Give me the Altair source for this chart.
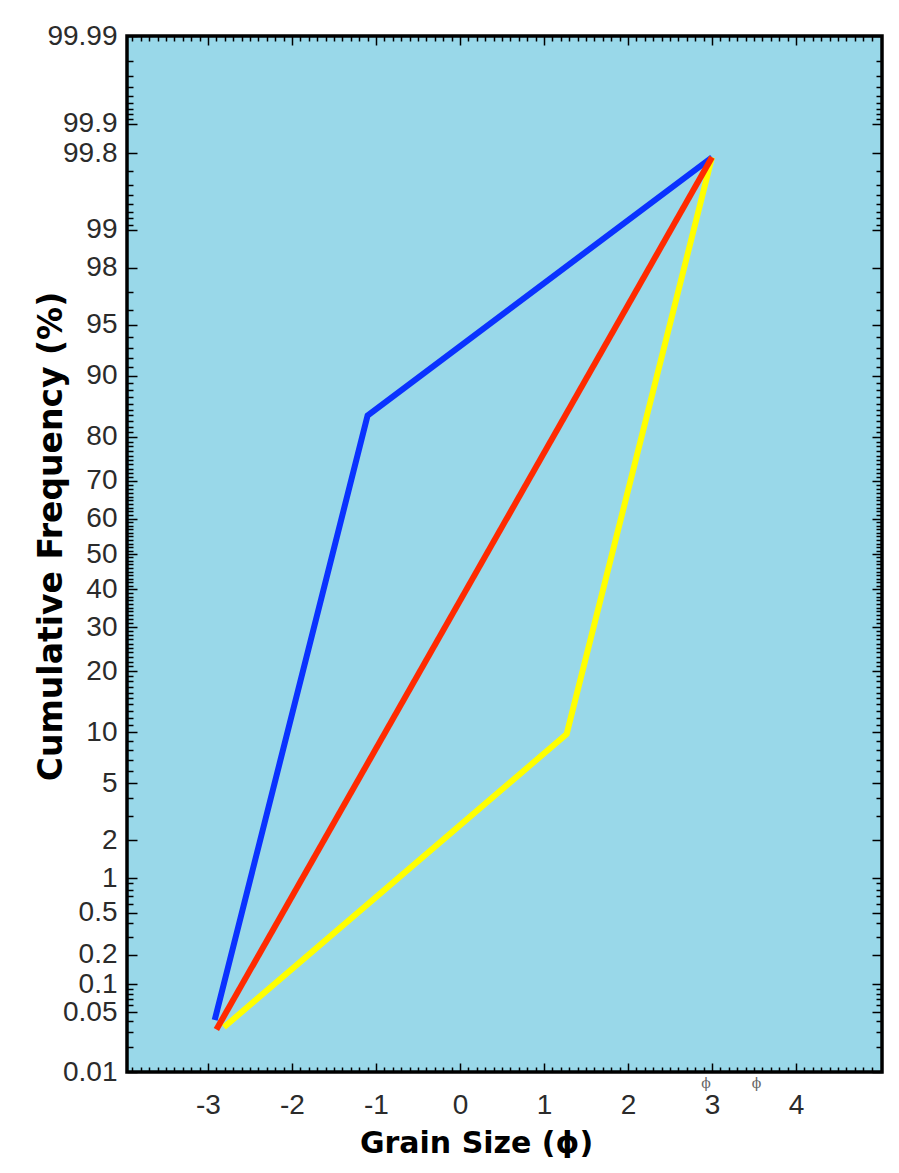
import altair as alt
import pandas as pd
from statistics import NormalDist

# ---- data ----
series_names = ["blue", "yellow", "red"]
series_colors = ["#0a32ff", "#ffff00", "#ff2a00"]

blue_x = [-2.92, -1.1, 3.0]
blue_p = [0.041, 84.0, 99.78]
yellow_x = [-2.81, 1.27, 3.0]
yellow_p = [0.034, 9.8, 99.78]
red_x = [-2.9, 3.0]
red_p = [0.032, 99.78]

x_tick_labels = [-3, -2, -1, 0, 1, 2, 3, 4]
y_tick_labels = [0.01, 0.05, 0.1, 0.2, 0.5, 1, 2, 5, 10, 20, 30, 40, 50, 60, 70,
                 80, 90, 95, 98, 99, 99.8, 99.9, 99.99]
y_minor_pcts = ([round(0.01 * k, 2) for k in range(2, 10)]
                + [round(0.1 * k, 1) for k in range(3, 10) if k != 5]
                + [k for k in range(3, 99) if k not in y_tick_labels]
                + [round(99 + 0.1 * k, 1) for k in range(1, 10) if k not in (8, 9)]
                + [round(99.9 + 0.01 * k, 2) for k in range(1, 9)])
x_minor = [round(-3.9 + 0.1 * k, 1) for k in range(0, 90)]

stray_x = [2.93, 3.53]
stray_text = ["ϕ", "ϕ"]

# ---- tables ----
rows = []
for name, xs, ps in [("blue", blue_x, blue_p), ("yellow", yellow_x, yellow_p), ("red", red_x, red_p)]:
    for i, (xv, pv) in enumerate(zip(xs, ps)):
        rows.append({"series": name, "x": xv, "p": pv, "i": i})
df = pd.DataFrame(rows)
stray_df = pd.DataFrame({"x": stray_x, "t": stray_text})

nd = NormalDist()
def zq(p):
    return nd.inv_cdf(p / 100.0)

z_major = [zq(p) for p in y_tick_labels]
z_minor = [zq(p) for p in y_minor_pcts if p not in y_tick_labels]
x_major = [float(v) for v in x_tick_labels]
x_min = [v for v in x_minor if abs(v - round(v)) > 1e-6]

W, H = 755, 1036
XDOM = [-3.964, 5.024]
YDOM = [zq(0.01), zq(99.99)]

base = alt.Chart(df).transform_calculate(z="quantileNormal(datum.p / 100)")

xs = alt.Scale(domain=XDOM, nice=False, zero=False)
ys = alt.Scale(domain=YDOM, nice=False, zero=False)

LABEL_FONT = "Liberation Sans"
TITLE_FONT = "DejaVu Sans"

main_x_axis = alt.Axis(values=x_major, ticks=False, domain=False, grid=False,
                       labelExpr="'' + datum.value", labelFont=LABEL_FONT, labelFontSize=28,
                       labelColor="#2b2b2b", labelPadding=19, labelFlush=False, labelOverlap=False,
                       title="Grain Size (ϕ)", titleFont=TITLE_FONT, titleFontSize=30,
                       titleFontWeight="bold", titleColor="black", titleX=349, titleY=80,
                       titleBaseline="alphabetic", titleAlign="center")
main_y_axis = alt.Axis(values=z_major, ticks=False, domain=False, grid=False,
                       labelExpr="format(round(cumulativeNormal(datum.value) * 10000) / 100, '~f')",
                       labelFont=LABEL_FONT, labelFontSize=28, labelColor="#2b2b2b",
                       labelPadding=10, labelFlush=False, labelOverlap=False,
                       title="Cumulative Frequency (%)", titleFont=TITLE_FONT, titleFontSize=33,
                       titleFontWeight="bold", titleColor="black", titleX=-66, titleY=500,
                       titleAngle=270, titleBaseline="alphabetic", titleAlign="center")

lines = base.mark_line(strokeWidth=6, strokeCap="butt", strokeJoin="miter").encode(
    x=alt.X("x:Q", scale=xs, axis=main_x_axis),
    y=alt.Y("z:Q", scale=ys, axis=main_y_axis),
    color=alt.Color("series:N", scale=alt.Scale(domain=series_names, range=series_colors), legend=None),
    order=alt.Order("i:Q"),
)

def tick_layer(xvals, xorient, xsize, yvals, yorient, ysize):
    xa = alt.Axis(values=xvals, orient=xorient, offset=-H, labels=False, domain=False, grid=False,
                  ticks=True, tickSize=xsize, tickColor="black", tickWidth=1.5, title=None)
    ya = alt.Axis(values=yvals, orient=yorient, offset=-W, labels=False, domain=False, grid=False,
                  ticks=True, tickSize=ysize, tickColor="black", tickWidth=1.5, title=None)
    return base.mark_point(opacity=0).encode(
        x=alt.X("x:Q", scale=xs, axis=xa),
        y=alt.Y("z:Q", scale=ys, axis=ya),
    )

t1 = tick_layer(x_major, "top", 9, z_major, "right", 10)      # bottom & left edges, major
t2 = tick_layer(x_min, "top", 5, z_minor, "right", 6)         # bottom & left edges, minor
t3 = tick_layer(x_major, "bottom", 9, z_major, "left", 10)    # top & right edges, major
t4 = tick_layer(x_min, "bottom", 5, z_minor, "left", 6)       # top & right edges, minor

stray = alt.Chart(stray_df).mark_text(fontSize=14, color="#666666", font="DejaVu Serif",
                                      baseline="middle", align="center").encode(
    x=alt.X("x:Q", scale=xs, axis=None),
    y=alt.value(H + 12),
    text="t:N",
)

chart = alt.layer(t1, t2, t3, t4, lines, stray).resolve_axis(
    x="independent", y="independent"
).properties(
    width=W, height=H,
    autosize=alt.AutoSizeParams(type="none"),
    padding={"left": 119, "top": 28, "right": 5, "bottom": 86},
    background="white",
).configure_view(
    fill="#99d8e9", stroke="black", strokeWidth=3.5
)

chart.save("out.html", embed_options={"renderer": "svg", "actions": False})
